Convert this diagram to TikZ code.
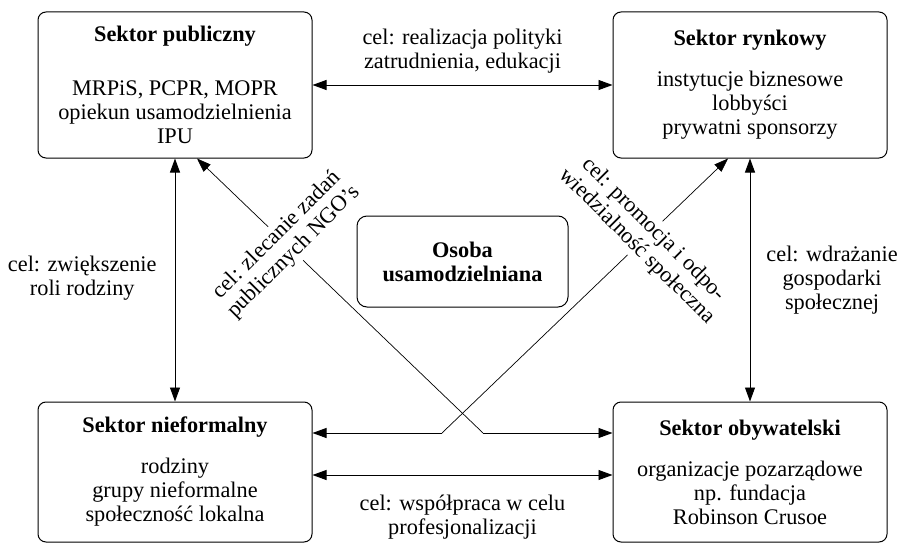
\documentclass[tikz,border=0pt]{standalone}
\usepackage{fontspec}
\setmainfont{Liberation Serif}
\usetikzlibrary{arrows.meta,positioning}

\begin{document}
\begin{tikzpicture}[x=1pt, y=-1pt,
  sektor/.style={draw, line width=1pt, rounded corners=8pt, minimum width=274pt, minimum height=146pt, align=center, font=\fontsize{22.3}{24}\selectfont},
  lbl/.style={align=center, font=\fontsize{22.3}{24}\selectfont, inner sep=2pt},
  strz/.style={line width=0.9pt, {Triangle[length=14pt,width=10pt]}-{Triangle[length=14pt,width=10pt]}},
  grot/.style={-{Triangle[length=14pt,width=10pt]}}]
\useasboundingbox (0,0) rectangle (899,543);
% sektory
\node[sektor] (pub) at (175,85) {\textbf{Sektor publiczny}\\[30pt] MRPiS, PCPR, MOPR\\ opiekun usamodzielnienia\\ IPU};
\node[sektor] (ryn) at (750,85) {\textbf{Sektor rynkowy}\\[17pt] instytucje biznesowe\\ lobbyści\\ prywatni sponsorzy};
\node[sektor, minimum height=140pt] (nief) at (175,472) {\textbf{Sektor nieformalny}\\[17pt] rodziny\\ grupy nieformalne\\ społeczność lokalna};
\node[sektor, minimum height=140pt] (obyw) at (750,472) {\textbf{Sektor obywatelski}\\[17pt] organizacje pozarządowe\\ np. fundacja\\ Robinson Crusoe};
\node[sektor, rounded corners=10pt, minimum width=211pt, minimum height=91pt, font=\fontsize{22.3}{24}\selectfont\bfseries] (osoba) at (462.5,261.5) {Osoba\\ usamodzielniana};
% punkty zalamania
\coordinate (kp) at (442,433);
\coordinate (kz) at (483,433);
\coordinate (dol) at (462,475);
% polaczenia
\draw[strz] (pub) -- node[lbl, above=9pt] {cel: realizacja polityki\\ zatrudnienia, edukacji} (ryn);
\draw[strz] (pub) -- node[lbl, left=16pt, yshift=2pt] {cel: zwiększenie\\ roli rodziny} (nief);
\draw[strz] (ryn) -- node[lbl, right=14pt] {cel: wdrażanie\\ gospodarki\\ społecznej} (obyw);
\draw[strz] (nief.east |- dol) -- node[lbl, below=18pt] {cel: współpraca w celu\\ profesjonalizacji} (obyw.west |- dol);
\draw[grot, line width=0.7pt] (kz) -- node[lbl, fill=white, rotate=45, pos=0.69] {cel: zlecanie zadań\\ publicznych NGO’s} ([xshift=22pt]pub.south);
\draw[grot, line width=0.9pt] (kz) -- (obyw.west |- kz);
\draw[grot, line width=0.7pt] (kp) -- node[lbl, fill=white, rotate=-45, pos=0.71] {cel: promocja i odpo-\\ wiedzialność społeczna} ([xshift=-22pt]ryn.south);
\draw[grot, line width=0.9pt] (kp) -- (nief.east |- kp);
\end{tikzpicture}
\end{document}
